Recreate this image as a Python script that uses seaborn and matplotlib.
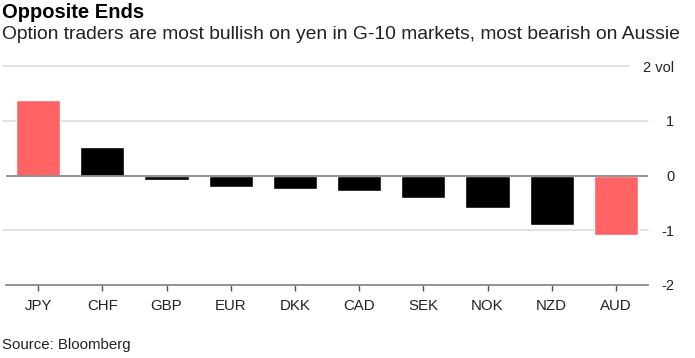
import numpy as np
import matplotlib
matplotlib.use("Agg")
import matplotlib.pyplot as plt
import seaborn as sns

# data
currencies = ["JPY", "CHF", "GBP", "EUR", "DKK", "CAD", "SEK", "NOK", "NZD", "AUD"]
vol_skew = [1.37, 0.52, -0.09, -0.21, -0.25, -0.29, -0.41, -0.60, -0.91, -1.09]
bar_colors = ["#ff6363", "#000000", "#000000", "#000000", "#000000",
              "#000000", "#000000", "#000000", "#000000", "#ff6363"]
y_ticks = [-2, -1, 0, 1, 2]
y_tick_labels = ["-2", "-1", "0", "1", "2 vol"]

sns.set_style("white")
plt.rcParams["font.family"] = ["Liberation Sans", "DejaVu Sans"]

fig = plt.figure(figsize=(6.95, 3.58), dpi=100)
ax = fig.add_axes([6 / 695, 73 / 358, 642 / 695, 219 / 358])

sns.barplot(x=currencies, y=vol_skew, hue=currencies, palette=bar_colors,
            width=0.69, legend=False, saturation=1, ax=ax, zorder=3)

ax.set_ylim(-2, 2)
ax.set_xlim(-0.5, 9.5)

# gridlines
for t in y_ticks[1:]:
    if t == 0:
        continue
    xmax = 0.97 if t == 2 else 1.0
    ax.axhline(t, xmin=-0.005, xmax=xmax, color="#dddddd", lw=1.2, zorder=1, clip_on=False)
ax.axhline(0, color="#8a8a8a", lw=1.3, zorder=4)

for s in ["top", "left", "right"]:
    ax.spines[s].set_visible(False)
ax.spines["bottom"].set_color("#8a8a8a")
ax.spines["bottom"].set_linewidth(1.3)

ax.yaxis.tick_right()
ax.set_yticks(y_ticks)
ax.set_yticklabels(y_tick_labels)
for lab in ax.get_yticklabels():
    lab.set_horizontalalignment("right")
ax.tick_params(axis="y", length=0, pad=19, labelsize=10.5, labelcolor="#222222")
ax.tick_params(axis="x", length=4, width=1, color="#555555", pad=6,
               labelsize=10.8, labelcolor="#222222", direction="out", bottom=True)
ax.set_xlabel("")
ax.set_ylabel("")

fig.text(0.003, 0.965, "Opposite Ends", fontsize=14.5, fontweight="bold",
         va="center", ha="left", color="#000000")
fig.text(0.003, 0.903, "Option traders are most bullish on yen in G-10 markets, most bearish on Aussie",
         fontsize=13.9, va="center", ha="left", color="#222222")
fig.text(0.003, 0.036, "Source: Bloomberg", fontsize=10.8, va="center", ha="left", color="#222222")

plt.savefig("out.png", dpi=100)
